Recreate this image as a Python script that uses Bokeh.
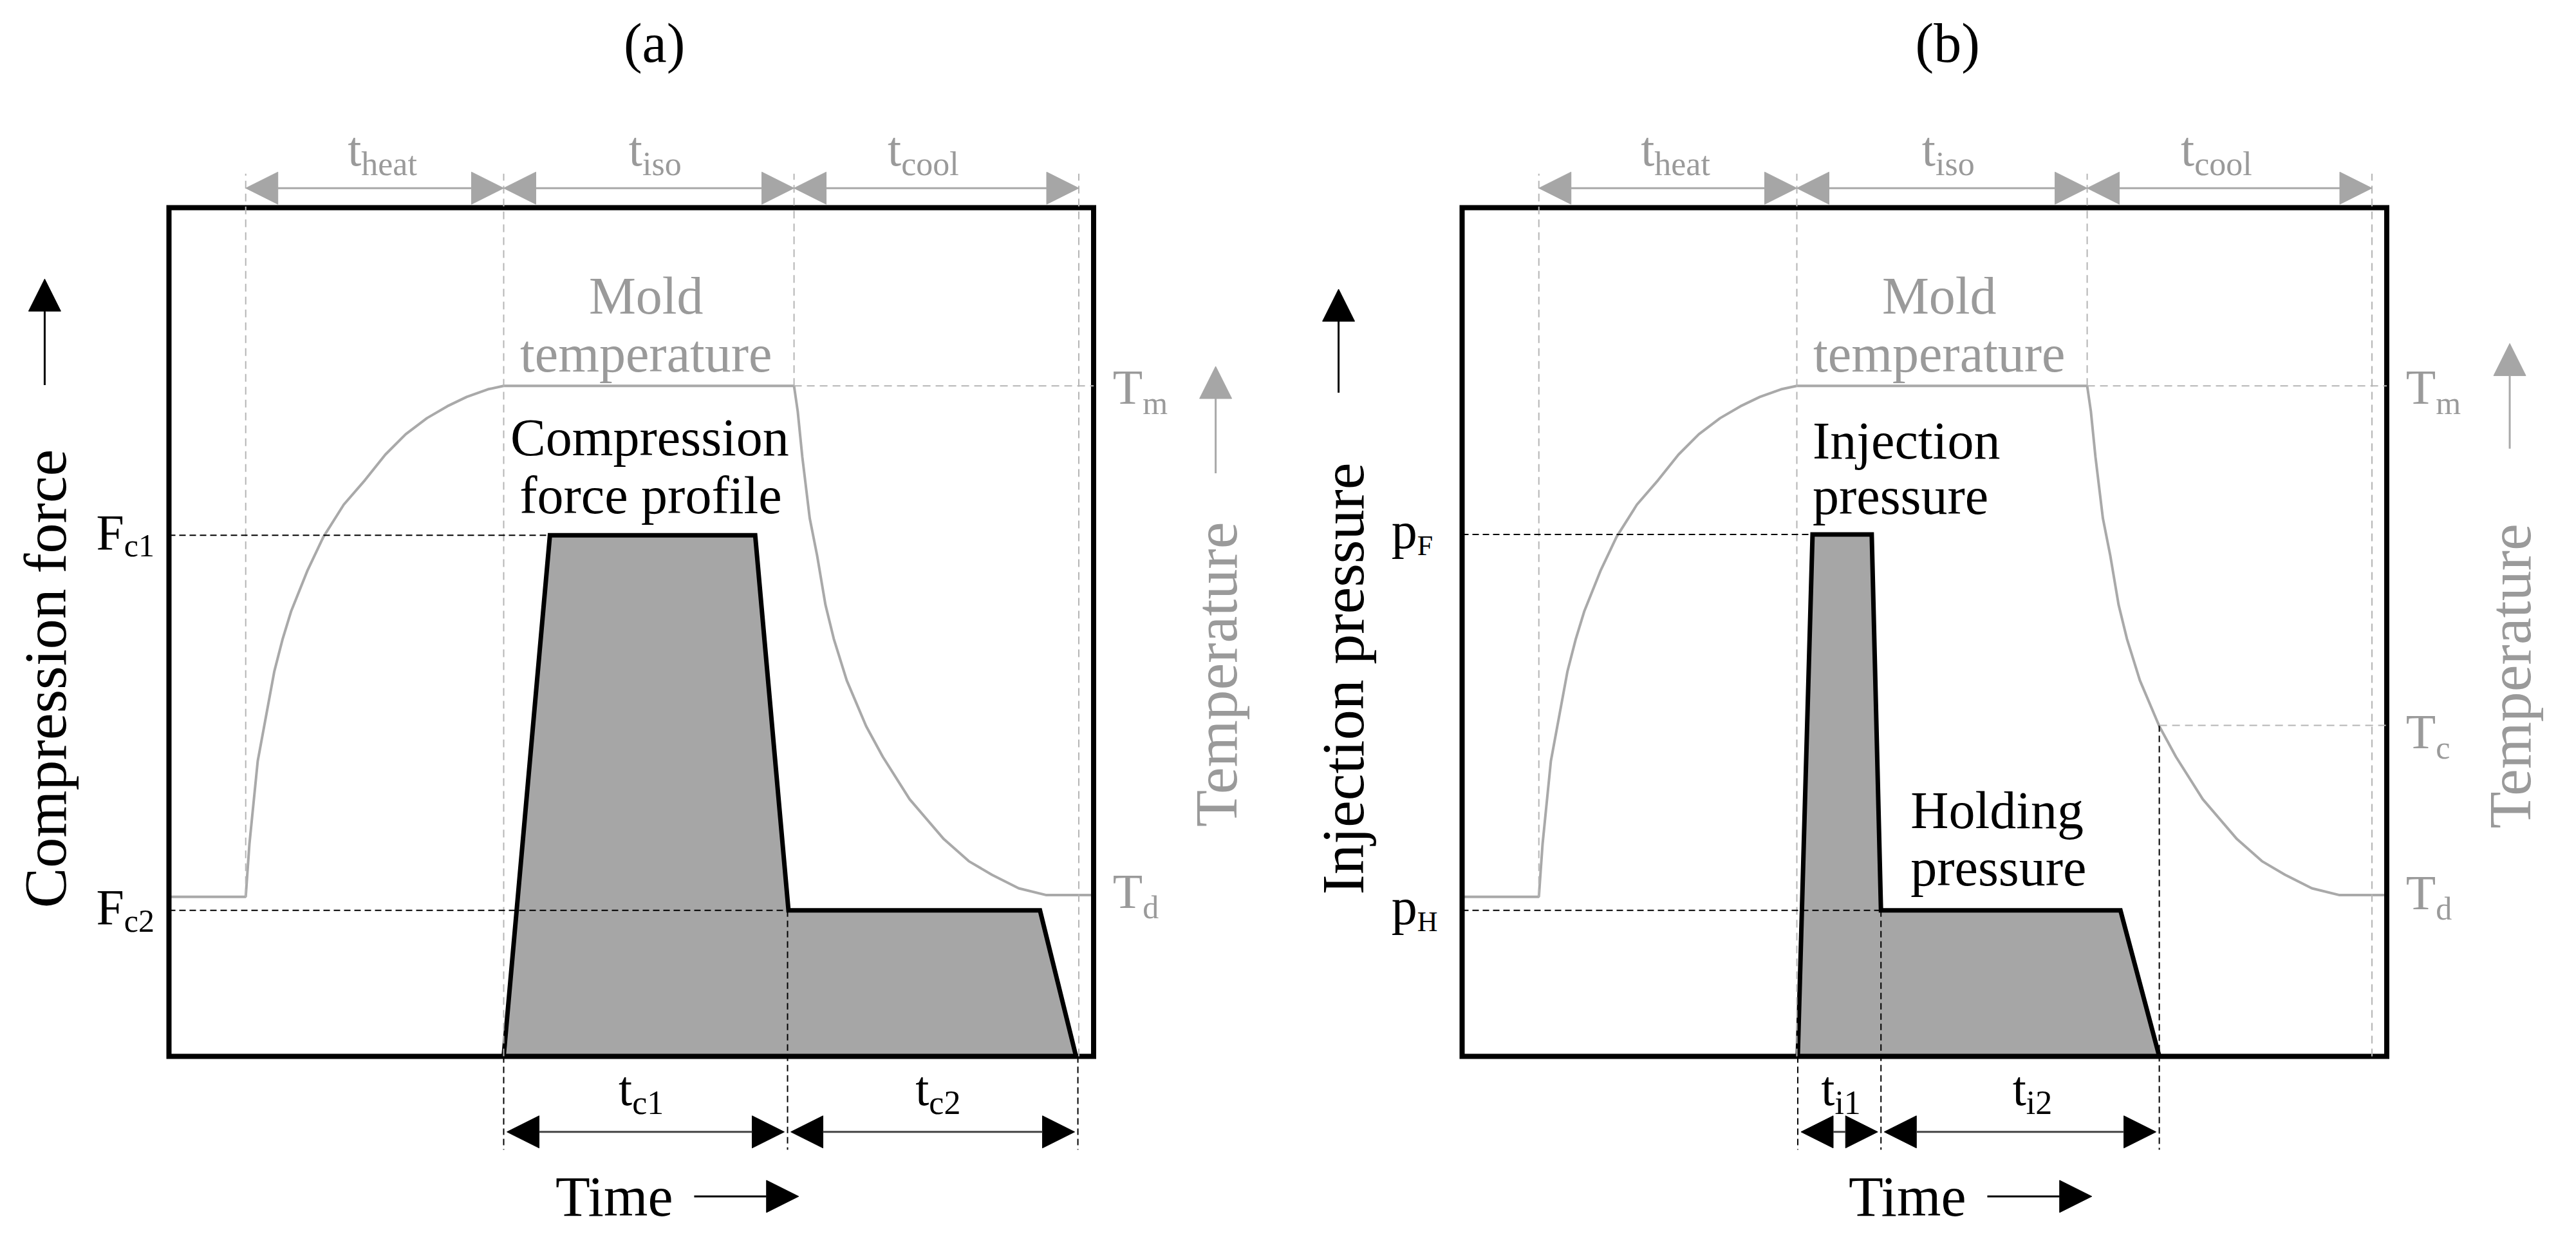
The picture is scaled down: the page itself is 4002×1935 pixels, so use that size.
from math import pi
from bokeh.plotting import figure
from bokeh.layouts import row
from bokeh.models import Range1d, Arrow, NormalHead
from bokeh.core.properties import value
from bokeh.embed import file_html
from bokeh.resources import INLINE

# ---------------- data (time and level in % of the plot box) ----------------
phase_t = [8.3, 36.2, 67.6, 98.4]          # start heat, start iso, start cool, end cool
phase_subs = ["heat", "iso", "cool"]
T_m = 79.0
T_d = 18.8
T_c = 39.0

heat_t = [0, 8.3, 8.7, 9.6, 11.4, 12.3, 13.2, 15.0, 16.7, 18.9, 21.2, 23.4, 25.6, 27.9, 30.1, 32.2, 34.5, 36.2]
heat_v = [18.8, 18.8, 25.0, 34.8, 45.4, 49.2, 52.4, 57.3, 61.2, 65.0, 67.9, 70.9, 73.3, 75.2, 76.6, 77.7, 78.6, 79.0]
cool_t = [67.6, 68.0, 68.5, 69.3, 70.1, 71.0, 71.9, 73.3, 75.4, 77.2, 80.1, 83.8, 86.5, 89.0, 91.9, 94.9, 100]
cool_v = [79.0, 76.0, 70.6, 63.4, 59.0, 53.2, 49.2, 44.3, 38.9, 35.3, 30.3, 25.6, 23.0, 21.4, 19.8, 19.0, 19.0]

force_t = [36.2, 41.2, 63.4, 67.0, 94.2, 98.1]
force_v = [0, 61.4, 61.4, 17.2, 17.2, 0]
force_levels = [61.4, 17.2]
force_subs = ["c1", "c2"]
tc_bounds = [36.2, 66.9, 98.3]
tc_subs = ["c1", "c2"]

inj_t = [36.3, 37.9, 44.3, 45.3, 71.2, 75.4]
inj_v = [0, 61.5, 61.5, 17.2, 17.2, 0]
inj_levels = [61.5, 17.2]
inj_subs = ["F", "H"]
ti_bounds = [36.3, 45.3, 75.4]
ti_subs = ["i1", "i2"]

# ---------------- layout / style ----------------
FONT = "Liberation Serif"
W, H = 1992, 1917
SX, SY = 14.365, 13.18
BOX_TOP_PX = 322
BASE_FIX = 0.29          # em, baseline correction
GRAY_TXT = "#9a9a9a"
GRAY_LINE = "#a9a9a9"
GRAY_DASH = "#b5b5b5"
FILL = "#a6a6a6"


def make_fig(box_left_px):
    x0 = -box_left_px / SX
    y_top = 100 + BOX_TOP_PX / SY
    p = figure(width=W, height=H,
               x_range=Range1d(x0, x0 + W / SX), y_range=Range1d(y_top - H / SY, y_top),
               x_axis_type=None, y_axis_type=None, toolbar_location=None, tools="",
               min_border=0, outline_line_color=None, output_backend="svg",
               background_fill_color="white", border_fill_color="white")
    p.title.visible = False
    return p


def txt(p, x, y, s, size, color="black", align="center", angle=0.0):
    if angle == 0:
        y = y + BASE_FIX * size / SY
    else:
        x = x - BASE_FIX * size / SX
    p.text(x=[x], y=[y], text=[s], text_font=value(FONT), text_font_size=value(f"{size}px"),
           text_color=color, text_align=align, text_baseline="alphabetic", angle=angle)


def sublabel(p, x, y, main, sub, size_main, size_sub, drop, color="black"):
    txt(p, x, y, main, size_main, color, align="right")
    txt(p, x, y - drop, sub, size_sub, color, align="left")


def arrow(p, x0, y0, x1, y1, head_color, shaft_color, both=True, lw=3):
    def head():
        return NormalHead(size=50, fill_color=head_color, line_color=head_color, line_width=1)
    p.add_layout(Arrow(start=head() if both else None, end=head(),
                       x_start=x0, y_start=y0, x_end=x1, y_end=y1,
                       line_color=shaft_color, line_width=lw))


def build(letter, box_left_px, prof_t, prof_v, levels, lvl_main, lvl_main_size, lvl_subs, lvl_sub_size,
          bounds, b_subs, b_splits, ylabel, ylab_x, up_x, up_y, temp_x, temp_y, garr_x, garr_y,
          third_bottom, right_levels):
    p = make_fig(box_left_px)
    # temperature curve
    p.line(heat_t + cool_t, heat_v + cool_v, line_color=GRAY_LINE, line_width=4)
    # profile
    p.patch(prof_t, prof_v, fill_color=FILL, line_color="black", line_width=7, line_join="miter")
    # box
    p.quad(left=[0], right=[100], bottom=[0], top=[100], fill_color=None, line_color="black",
           line_width=8, line_join="miter")
    # gray dashed phase lines
    p.segment(x0=phase_t, x1=phase_t, y0=[T_d, 0, T_m, 0], y1=[104.0] * 4,
              line_color=GRAY_DASH, line_width=2, line_dash="12 8")
    p.segment(x0=[phase_t[2]], x1=[100], y0=[T_m], y1=[T_m],
              line_color=GRAY_DASH, line_width=2, line_dash="12 8")
    # black dashed level lines
    p.segment(x0=[0, 0], x1=[prof_t[1], prof_t[3]], y0=levels, y1=levels,
              line_color="black", line_width=2, line_dash="10 6")
    # black dashed bounds below
    p.segment(x0=bounds, x1=bounds, y0=[0, levels[1], third_bottom], y1=[-11.0] * 3,
              line_color="black", line_width=2, line_dash="10 6")
    if third_bottom > 0:
        p.segment(x0=[bounds[2]], x1=[100], y0=[T_c], y1=[T_c],
                  line_color=GRAY_DASH, line_width=2, line_dash="12 8")
    # top phase arrows + labels
    splits = [20.8, 51.2, 79.2]
    for i in range(3):
        arrow(p, phase_t[i], 102.3, phase_t[i + 1], 102.3, FILL, GRAY_LINE)
        sublabel(p, splits[i], 105.24, "t", phase_subs[i], 76, 52, 1.21, GRAY_TXT)
    # bottom arrows + labels
    gap = 0.35
    for i in range(2):
        arrow(p, bounds[i] + gap, -8.9, bounds[i + 1] - gap, -8.9, "black", "#444444")
        sublabel(p, b_splits[i], -5.4, "t", b_subs[i], 76, 52, 1.21, "black")
    # level labels left
    for lv, sb in zip(levels, lvl_subs):
        sublabel(p, -4.85, lv - 1.33, lvl_main, sb, lvl_main_size, lvl_sub_size, 1.0, "black")
    # right temperature labels
    for lv, off, sb in right_levels:
        sublabel(p, 105.3, lv + off, "T", sb, 76, 50, 1.3, GRAY_TXT)
    # Mold temperature
    txt(p, 51.6, 87.8, "Mold", 82, GRAY_TXT)
    txt(p, 51.6, 81.0, "temperature", 82, GRAY_TXT)
    # panel title
    txt(p, 52.5, 117.5, f"({letter})", 86)
    # Time
    txt(p, 41.8, -18.5, "Time", 88, align="left")
    arrow(p, 56.8, -16.5, 68.1, -16.5, "black", "black", both=False)
    # y label + arrow
    txt(p, ylab_x, 44.5, ylabel, 94, angle=pi / 2)
    arrow(p, up_x, up_y[0], up_x, up_y[1], "black", "black", both=False)
    # Temperature label + arrow
    txt(p, temp_x, temp_y, "Temperature", 94, GRAY_TXT, angle=pi / 2)
    arrow(p, garr_x, garr_y[0], garr_x, garr_y[1], FILL, GRAY_LINE, both=False)
    return p


pa = build("a", 262, force_t, force_v, force_levels, "F", 78, force_subs, 50,
           tc_bounds, tc_subs, [50.1, 82.2], "Compression force", -11.5, -13.44, (79.1, 91.6),
           115.1, 45.0, 113.2, (68.7, 81.3), 0, [(T_m, -1.8, "m"), (T_d, -1.0, "d")])
txt(pa, 52.0, 71.1, "Compression", 82)
txt(pa, 52.1, 64.3, "force profile", 82)

pb = build("b", 279, inj_t, inj_v, inj_levels, "p", 80, inj_subs, 44,
           ti_bounds, ti_subs, [40.3, 61.0], "Injection pressure", -11.0, -13.36, (78.2, 90.4),
           115.2, 44.8, 113.3, (71.6, 84.0), T_c, [(T_m, -1.8, "m"), (T_d, -1.2, "d"), (T_c, -2.4, "c")])
txt(pb, 37.9, 70.7, "Injection", 82, align="left")
txt(pb, 37.9, 64.2, "pressure", 82, align="left")
txt(pb, 48.5, 27.2, "Holding", 82, align="left")
txt(pb, 48.5, 20.4, "pressure", 82, align="left")

layout = row(pa, pb)
open("out.html", "w").write(file_html(layout, INLINE))
